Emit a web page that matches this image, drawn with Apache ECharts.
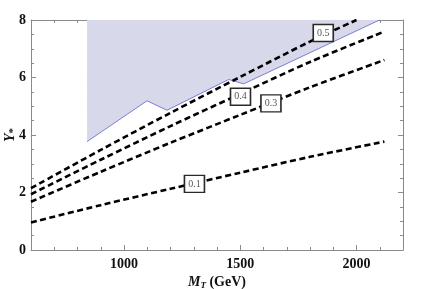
<!DOCTYPE html>
<html><head><meta charset="utf-8">
<script src="https://cdn.jsdelivr.net/npm/echarts@6/dist/echarts.min.js"></script>
<style>html,body{margin:0;padding:0;background:#fff}#c{width:424px;height:289px}</style>
</head><body><div id="c"></div>
<script>
const mt = [600, 900, 1200, 1500, 1800, 2120];
const y01 = [0.96, 1.56, 2.13, 2.69, 3.24, 3.77];
const y03 = [1.68, 2.72, 3.73, 4.70, 5.66, 6.61];
const y04 = [1.94, 3.14, 4.31, 5.43, 6.54, 7.60];
const mt05 = [600, 900, 1200, 1500, 1800, 2000];
const y05 = [2.15, 3.48, 4.77, 6.02, 7.25, 8.0];
const boundaryMt = [841, 1099, 1185, 1450, 1515, 2099];
const boundaryY = [3.77, 5.19, 4.86, 5.93, 5.78, 8.0];
const contourLabels = ['0.1', '0.3', '0.4', '0.5'];
const labelMt = [1303, 1632, 1501, 1857];
const labelY = [2.30, 5.10, 5.33, 7.55];
const xMajor = [1000, 1500, 2000];

const zip = (a, b) => a.map((v, i) => [v, b[i]]);
const serif = 'Liberation Serif';
const axisGray = '#8a8a8a';

function xAx(pos, major, labels) {
  return {
    type: 'value', position: pos, min: 600, max: 2200, interval: 100,
    axisLine: {show: !major, onZero: false, lineStyle: {color: axisGray, width: 1}},
    axisTick: major ? {show: true, inside: true, length: 5, customValues: xMajor, lineStyle: {color: axisGray}}
                    : {show: true, inside: true, length: 3, lineStyle: {color: axisGray}},
    axisLabel: labels ? {show: true, customValues: xMajor, formatter: v => String(v), fontFamily: serif, fontWeight: 'bold', fontSize: 14, color: '#111', margin: 7} : {show: false},
    splitLine: {show: false}
  };
}
function yAx(pos, labels) {
  return {
    type: 'value', position: pos, min: 0, max: 8, interval: 2,
    axisLine: {show: true, onZero: false, lineStyle: {color: axisGray, width: 1}},
    axisTick: {show: true, inside: true, length: 5, lineStyle: {color: axisGray}},
    minorTick: {show: true, splitNumber: 4, length: 3, lineStyle: {color: axisGray}},
    axisLabel: labels ? {show: true, formatter: v => String(v), fontFamily: serif, fontWeight: 'bold', fontSize: 14, color: '#111', margin: 5} : {show: false},
    splitLine: {show: false}
  };
}

const xAxes = [xAx('bottom', false, true), xAx('bottom', true, false), xAx('top', false, false), xAx('top', true, false)];
xAxes[0].name = '{i|M}{s|T}{n| (GeV)}';
xAxes[0].nameLocation = 'middle';
xAxes[0].nameGap = 25;
xAxes[0].nameMoveOverlap = false;
xAxes[0].nameTextStyle = {rich: {
  i: {fontFamily: serif, fontWeight: 'bold', fontStyle: 'italic', fontSize: 14, color: '#111'},
  s: {fontFamily: serif, fontWeight: 'bold', fontStyle: 'italic', fontSize: 9, color: '#111', verticalAlign: 'bottom', padding: [6, 0, 0, 0]},
  n: {fontFamily: serif, fontWeight: 'bold', fontSize: 14, color: '#111'}
}};
const yAxes = [yAx('left', true), yAx('right', false)];
yAxes[0].name = '{i|Y}{s|*}';
yAxes[0].nameLocation = 'middle';
yAxes[0].nameGap = 12;
yAxes[0].nameMoveOverlap = false;
yAxes[0].nameRotate = 90;
yAxes[0].nameTextStyle = {rich: {
  i: {fontFamily: serif, fontWeight: 'bold', fontStyle: 'italic', fontSize: 14, color: '#111'},
  s: {fontFamily: serif, fontWeight: 'bold', fontSize: 11, color: '#111', padding: [6, 0, 0, 0]}
}};

function dashed(name, x, y) {
  return {
    type: 'line', name: name, data: zip(x, y), smooth: 0.3, symbol: 'none', z: 5,
    lineStyle: {color: '#000', width: 2.6, type: [6, 3.5]}
  };
}

const option = {
  animation: false,
  backgroundColor: '#fff',
  grid: {left: 31, right: 21, top: 20, bottom: 39, containLabel: false, outerBoundsMode: 'none'},
  xAxis: xAxes,
  yAxis: yAxes,
  series: [
    {
      type: 'line', name: 'excluded', data: zip(boundaryMt, boundaryY), symbol: 'none', z: 2,
      lineStyle: {color: '#6f6fcf', width: 0.9},
      areaStyle: {origin: 'end', color: '#d8d8eb', opacity: 1}
    },
    dashed('0.1', mt, y01),
    dashed('0.3', mt, y03),
    dashed('0.4', mt, y04),
    dashed('0.5', mt05, y05),
    {
      type: 'scatter', zlevel: 1, z: 10, symbol: 'rect', symbolSize: [20, 17],
      itemStyle: {color: '#fff', borderColor: '#2a2a2a', borderWidth: 1.5, opacity: 1},
      data: contourLabels.map((t, i) => ({name: t, value: [labelMt[i], labelY[i]]})),
      label: {
        show: true, position: 'inside', formatter: p => p.name,
        fontFamily: serif, fontSize: 10, color: '#555'
      }
    }
  ]
};
const chart = echarts.init(document.getElementById('c'), null, {renderer: 'canvas'});
chart.setOption(option);
</script>
</body></html>
